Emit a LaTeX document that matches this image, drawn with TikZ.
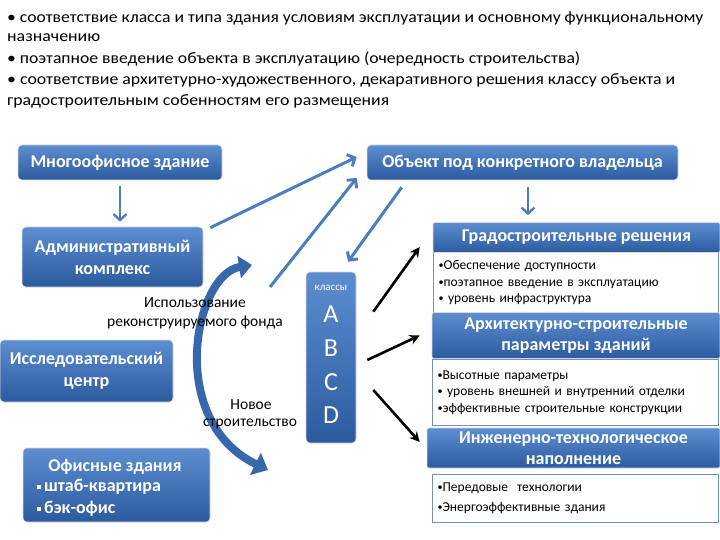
\documentclass[tikz,border=0pt]{standalone}
\usepackage{graphicx}
\usepackage{fontspec}
\setmainfont{Carlito}
\usetikzlibrary{arrows.meta,calc}
\definecolor{btop}{RGB}{92,142,208}
\definecolor{bbot}{RGB}{44,90,158}
\definecolor{conn}{RGB}{76,126,190}
\definecolor{wbord}{RGB}{110,145,195}
\definecolor{cdark}{RGB}{56,104,172}
\newcommand\sbul{\raisebox{0.15ex}{\scalebox{0.75}{•}}}
\begin{document}
\begin{tikzpicture}[x=1pt,y=-1pt,
  bluebox/.style={rounded corners=4pt, top color=btop, bottom color=bbot, draw=white!70!gray,
    line width=0.6pt, text=white, font=\bfseries\fontsize{18}{22}\selectfont, align=center, inner sep=0pt},
  hdr/.style={bluebox, rounded corners=2pt},
  wbox/.style={draw=wbord, fill=white, line width=1.1pt, align=left, inner xsep=5pt, inner ysep=0pt,
    anchor=north west},
  conline/.style={draw=conn, line width=3pt, -{Straight Barb[length=6pt,width=13pt]}},
  downarr/.style={draw=conn, line width=2.4pt, -{Straight Barb[length=6pt,width=13pt]}},
  blk/.style={draw=black, line width=2.6pt, -{Stealth[length=10pt,width=10pt]}},
  toptext/.style={anchor=west, inner sep=0pt, font=\fontsize{16}{19}\selectfont},
  lbl/.style={font=\fontsize{15.5}{18}\selectfont, inner sep=0pt},
  wtext/.style={font=\fontsize{13.5}{16.5}\selectfont}]
\useasboundingbox (0,0) rectangle (720,540);

% top text
\node[toptext] (t1) at (7,18) {\resizebox{696pt}{\height}{• соответствие класса и типа здания условиям эксплуатации и основному функциональному}};
\node[toptext] (t2) at (7,38) {\resizebox{93pt}{\height}{назначению}};
\node[toptext] (t3) at (7,59) {\resizebox{573pt}{\height}{• поэтапное введение объекта в эксплуатацию (очередность строительства)}};
\node[toptext] (t4) at (7,80) {\resizebox{668pt}{\height}{• соответствие архитетурно-художественного, декаративного решения классу объекта и}};
\node[toptext] (t5) at (7,101) {\resizebox{382pt}{\height}{градостроительным собенностям его размещения}};

% left boxes
\node[bluebox, minimum width=204, minimum height=35] (mnogo) at (120,162.5) {Многоофисное здание};
\node[bluebox, minimum width=311, minimum height=35] (obj) at (522.5,162.5) {Объект под конкретного владельца};
\node[bluebox, minimum width=181, minimum height=60] (admin) at (112.5,257) {Административный\\комплекс};
\node[bluebox, minimum width=173, minimum height=62] (issl) at (86.5,371) {Исследовательский\\центр};
\node[bluebox, minimum width=187, minimum height=74] (ofis) at (116.5,485) {};
\node[text=white, font=\bfseries\fontsize{18}{22}\selectfont, inner sep=0pt] (ofist) at (115,467) {Офисные здания};
\node[text=white, font=\bfseries\fontsize{18}{22}\selectfont, inner sep=0pt, anchor=west] (ofis1) at (37,487) {\rule[0.3ex]{4pt}{4pt}\,штаб-квартира};
\node[text=white, font=\bfseries\fontsize{18}{22}\selectfont, inner sep=0pt, anchor=west] (ofis2) at (37,509) {\rule[0.3ex]{4pt}{4pt}\,бэк-офис};

% classes box
\node[bluebox, minimum width=50, minimum height=171] (klass) at (331,357.5) {};
\node[text=white, font=\fontsize{11}{12}\selectfont, inner sep=0pt] (kl) at (331,288) {классы};
\node[text=white, font=\fontsize{26}{28}\selectfont, inner sep=0pt] (ka) at (331,314) {A};
\node[text=white, font=\fontsize{26}{28}\selectfont, inner sep=0pt] (kb) at (331,348) {B};
\node[text=white, font=\fontsize{26}{28}\selectfont, inner sep=0pt] (kc) at (331,382) {C};
\node[text=white, font=\fontsize{26}{28}\selectfont, inner sep=0pt] (kd) at (331,415) {D};

% right column
\node[wbox, wtext, text width=275, minimum height=60] (gradw) at (433,252)
  {\sbul Обеспечение доступности\\\sbul поэтапное введение в эксплуатацию\\\sbul\ уровень инфраструктура};
\node[hdr, minimum width=287, minimum height=30] (grad) at (576.5,237.5) {Градостроительные решения};
\node[wbox, wtext, text width=276, minimum height=66] (archw) at (432,359)
  {\sbul Высотные параметры\\\sbul\ уровень внешней и внутренний отделки\\\sbul эффективные строительные конструкции};
\node[hdr, minimum width=288, minimum height=46, font=\bfseries\fontsize{18}{21}\selectfont] (arch) at (576,335.5) {Архитектурно-строительные\\параметры зданий};
\node[wbox, font=\fontsize{13.5}{20}\selectfont, text width=276, minimum height=48] (inzhw) at (432,474)
  {\sbul Передовые\ \ технологии\\\sbul Энергоэффективные здания};
\node[hdr, minimum width=293, minimum height=40, font=\bfseries\fontsize{18}{20.5}\selectfont] (inzh) at (573.5,448) {Инженерно-технологическое\\наполнение};

% curved arrow
\coordinate (cs) at (252,265);
\coordinate (ce) at (268,470);
\draw[draw=cdark, line width=8pt, {Triangle[width=22pt,length=13pt]}-{Triangle[width=24pt,length=14pt]}]
  (cs) .. controls (195,274) and (165,420) .. (ce);

% labels
\node[lbl] (lb1) at (195,303) {Использование};
\node[lbl] (lb2) at (195,323) {реконструируемого фонда};
\node[lbl] (lb3) at (251,405) {Новое};
\node[lbl] (lb4) at (250,424) {строительство};

% blue connectors
\coordinate (l2s) at (270,287);
\draw[downarr] ($(mnogo.south)+(0,6)$) -- ($(mnogo.south |- admin.north)+(0,-5)$);
\draw[downarr] ($(obj.south)+(5.5,7)$) -- ($(obj.south |- grad.north)+(5.5,-7)$);
\draw[conline] ($(admin.north east)+(7,1)$) -- ($(obj.west)+(-10,-5.5)$);
\draw[conline] (l2s) -- ($(obj.west)+(-10,15.5)$);
\draw[conline] ($(obj.south west)+(35,7)$) -- ($(klass.north)+(17,-10)$);

% black arrows
\draw[blk] ($(klass.north east)+(17,40)$) -- ($(grad.west)+(-13,9.5)$);
\draw[blk] ($(klass.east)+(11,2.5)$) -- ($(arch.west)+(-12,0)$);
\draw[blk] ($(klass.east)+(17,32.5)$) -- ($(inzh.west)+(-7,-6)$);
\end{tikzpicture}
\end{document}
